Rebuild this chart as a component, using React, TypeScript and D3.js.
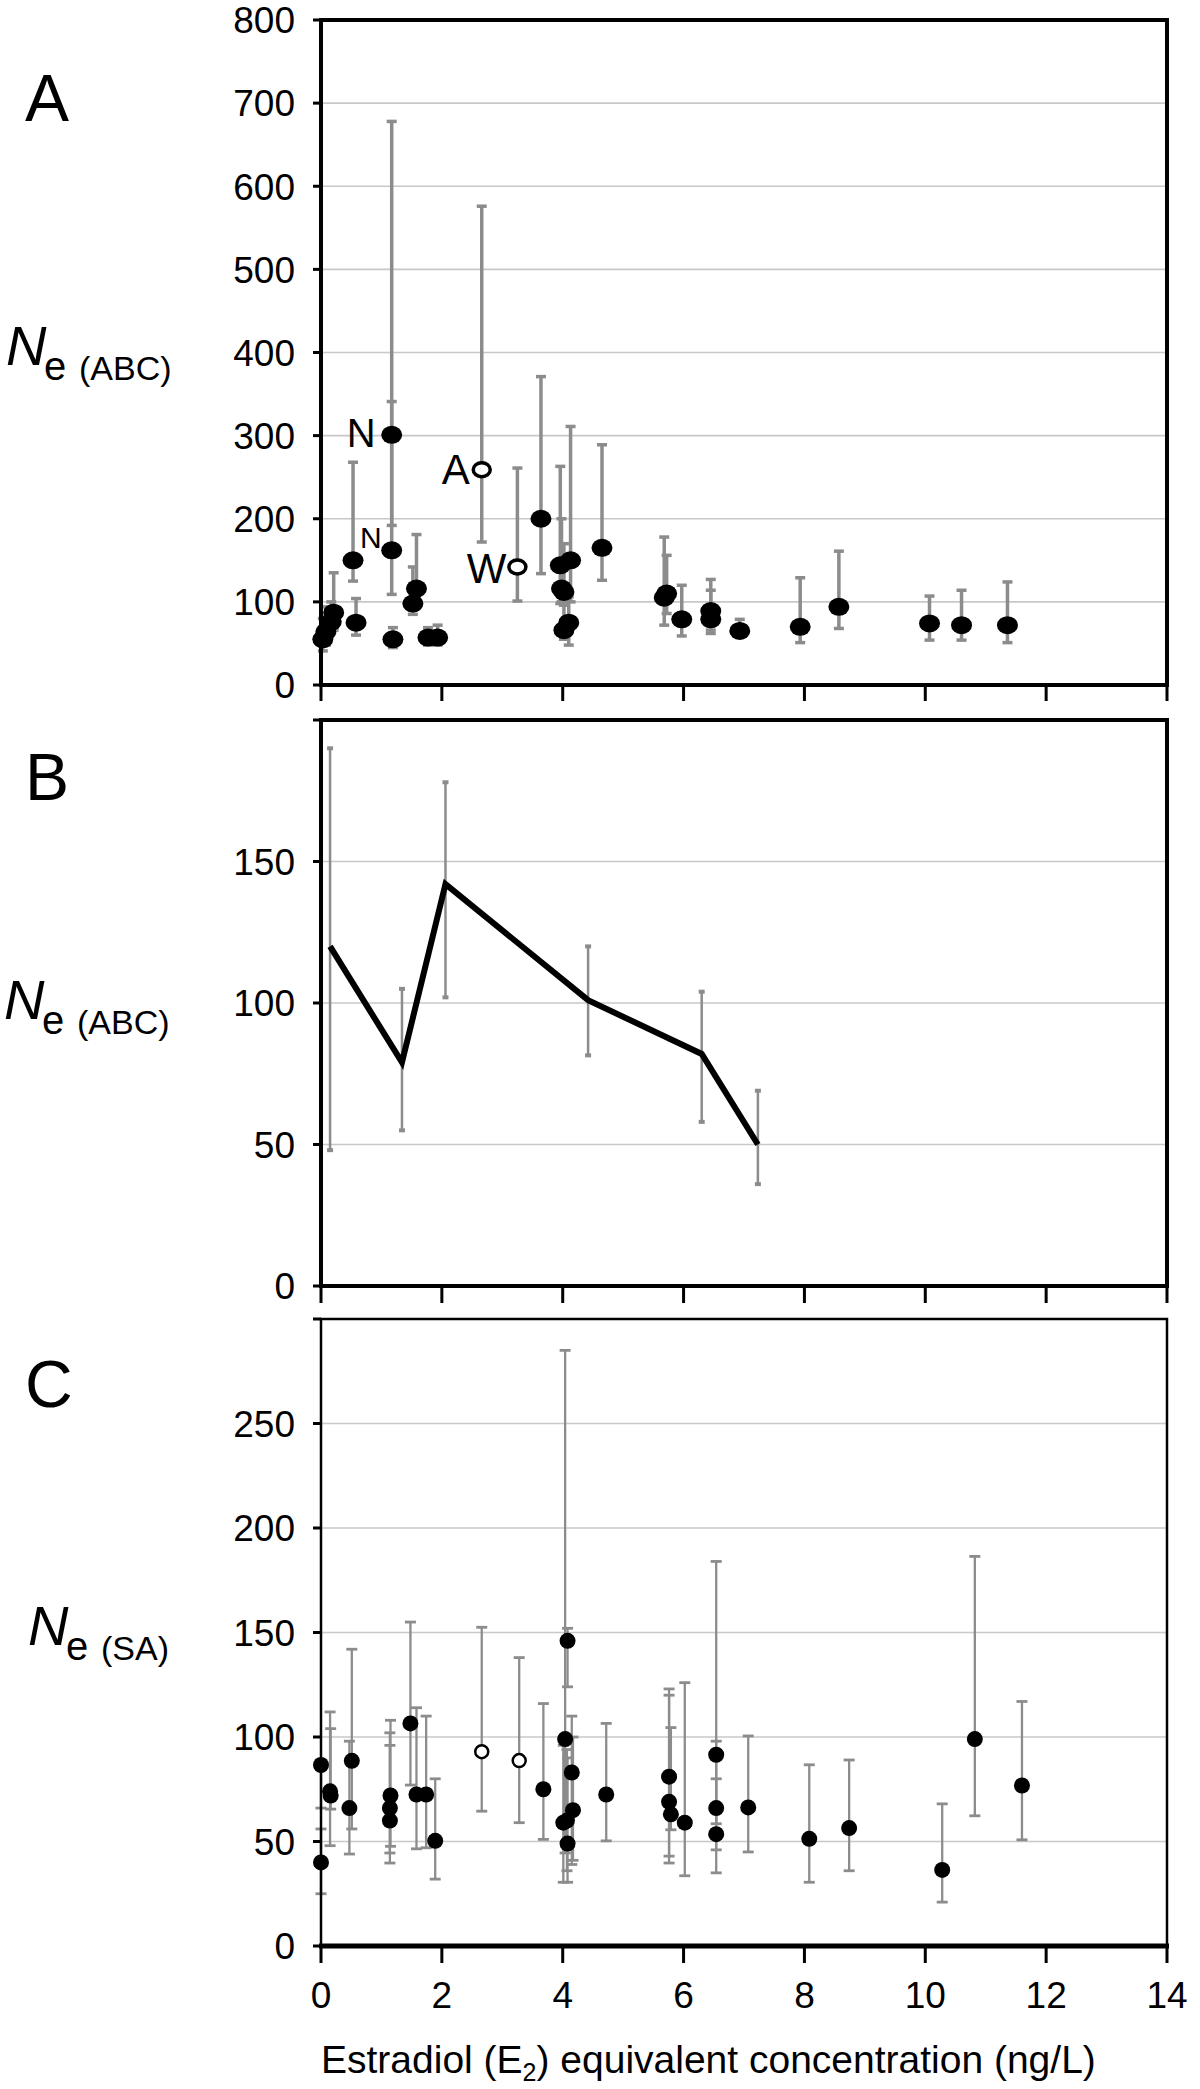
import React from "react";
import * as d3 from "d3";

// ---------- DATA ----------
const X_TICKS = [0, 2, 4, 6, 8, 10, 12, 14];
const A_Y_TICKS = [0, 100, 200, 300, 400, 500, 600, 700, 800];
const B_Y_TICKS = [0, 50, 100, 150];
const C_Y_TICKS = [0, 50, 100, 150, 200, 250];

// Panel A: Ne(ABC) per site (x = E2 eq., y, lower CI, upper CI)
const A_X = [0.03, 0.08, 0.17, 0.21, 0.53, 0.58, 1.17, 1.17, 1.19, 1.52, 1.58, 1.77, 1.93, 3.64, 3.96, 3.98, 4.02, 4.02, 4.10, 4.13, 4.65, 5.68, 5.72, 5.97, 6.45, 6.45, 6.93, 7.93, 8.57, 10.07, 10.6, 11.36];
const A_Y = [55, 64, 76, 87, 150, 75, 301, 162, 55, 98, 116, 57, 57, 200, 144, 116, 112, 66, 75, 150, 165, 105, 110, 79, 89, 79, 65, 70, 94, 74, 72, 72];
const A_LO = [41, 48, 63, 66, 125, 60, 192, 109, 45, 85, 97, 48, 48, 134, 98, 100, 96, 55, 48, 100, 126, 72, 86, 59, 62, 66, 58, 51, 68, 54, 54, 51];
const A_HI = [80, 94, 100, 135, 268, 104, 678, 341, 69, 142, 181, 69, 72, 371, 263, 200, 170, 98, 106, 311, 289, 178, 156, 120, 127, 114, 79, 129, 161, 107, 114, 124];
const A_LABELS = ["", "", "", "", "", "", "N", "N", "", "", "", "", "", "", "", "", "", "", "", "", "", "", "", "", "", "", "", "", "", "", "", ""];

// Panel A open symbols
const A_OPEN_X = [2.66, 3.25];
const A_OPEN_Y = [259, 142];
const A_OPEN_LO = [172, 101];
const A_OPEN_HI = [576, 261];
const A_OPEN_LABELS = ["A", "W"];

// Panel B: binned means
const B_X = [0.15, 1.34, 2.06, 4.42, 6.3, 7.23];
const B_Y = [120, 79, 142, 101, 82, 50];
const B_LO = [48, 55, 102, 81.5, 58, 36];
const B_HI = [190, 105, 178, 120, 104, 69];

// Panel C: Ne(SA)
const C_X = [0.0, 0.0, 0.15, 0.16, 0.51, 0.47, 1.15, 1.14, 1.14, 1.48, 1.58, 1.74, 1.89, 3.68, 4.08, 4.04, 4.15, 4.17, 4.07, 4.01, 4.08, 4.72, 5.76, 5.76, 5.79, 6.02, 6.54, 6.54, 6.54, 7.07, 8.08, 8.74, 10.28, 10.82, 11.6];
const C_Y = [86.6, 40, 74, 72, 88.6, 66, 72, 66, 60, 106.5, 72.5, 72.5, 50.3, 75, 146, 99, 83, 65, 60, 59, 49, 72.5, 81, 69, 63, 59, 91.5, 66, 53.5, 66.3, 51.3, 56.4, 36.4, 99, 76.8];
const C_LO = [66, 25, 48, 65.5, 56, 44, 47.7, 44.5, 39.7, 77, 46.5, 47, 32, 51, 124, 44.5, 39, 41, 36, 30.5, 30.5, 50.3, 43, 39.7, 55.6, 33.6, 58.5, 46, 35, 45, 30.5, 36, 21, 62.3, 50.8];
const C_HI = [89, 56, 112, 104, 142, 98, 108, 102, 96, 155, 114, 110, 80, 116, 152, 285, 110, 100, 94, 96, 90, 106.5, 123, 120, 104.5, 126, 184, 98, 80, 100.5, 86.7, 89, 68, 186.4, 117];

const C_OPEN_X = [2.66, 3.28];
const C_OPEN_Y = [93, 88.7];
const C_OPEN_LO = [64.5, 59];
const C_OPEN_HI = [152.5, 138];

// ---------- LAYOUT ----------
const W = 1200;
const H = 2089;
const LEFT = 321;
const RIGHT = 1167;
const FONT = "'Liberation Sans', Arial, Helvetica, sans-serif";
const BAR = "#8c8c8c";
const GRID = "#c8c8c8";

const x = d3.scaleLinear().domain([0, 14]).range([LEFT, RIGHT]);
const yA = d3.scaleLinear().domain([0, 800]).range([685, 20]);
const yB = d3.scaleLinear().domain([0, 200]).range([1286, 720]);
const yC = d3.scaleLinear().domain([0, 300]).range([1946, 1319]);

type Scale = d3.ScaleLinear<number, number>;

function Grid({ y, ticks }: { y: Scale; ticks: number[] }) {
  return (
    <g>
      {ticks.filter((t) => t > 0).map((t) => (
        <line key={t} x1={LEFT} x2={RIGHT} y1={y(t)} y2={y(t)} stroke={GRID} strokeWidth={1.6} />
      ))}
    </g>
  );
}

function YAxis({ y, ticks, showTop, fontSize }: { y: Scale; ticks: number[]; showTop: boolean; fontSize: number }) {
  const all = showTop ? ticks : ticks.concat([y.domain()[1]]);
  return (
    <g>
      {all.map((t) => (
        <line key={"t" + t} x1={LEFT - 8} x2={LEFT} y1={y(t)} y2={y(t)} stroke="#000" strokeWidth={3} />
      ))}
      {ticks.map((t) => (
        <text key={t} x={295} y={y(t) + fontSize * 0.36} textAnchor="end" fontSize={fontSize} fontFamily={FONT} fill="#000">
          {t}
        </text>
      ))}
    </g>
  );
}

function XTicks({ y0, len }: { y0: number; len: number }) {
  return (
    <g>
      {X_TICKS.map((t) => (
        <line key={t} x1={x(t)} x2={x(t)} y1={y0} y2={y0 + len} stroke="#000" strokeWidth={3} />
      ))}
    </g>
  );
}

function ErrBars({ xs, lo, hi, y, sw, capW, capSw }: { xs: number[]; lo: number[]; hi: number[]; y: Scale; sw: number; capW: number; capSw: number }) {
  return (
    <g>
      {xs.map((xv, i) => {
        const cx = x(xv);
        return (
          <g key={i}>
            <line x1={cx} x2={cx} y1={y(lo[i])} y2={y(hi[i])} stroke={BAR} strokeWidth={sw} />
            <line x1={cx - capW} x2={cx + capW} y1={y(lo[i])} y2={y(lo[i])} stroke={BAR} strokeWidth={capSw} />
            <line x1={cx - capW} x2={cx + capW} y1={y(hi[i])} y2={y(hi[i])} stroke={BAR} strokeWidth={capSw} />
          </g>
        );
      })}
    </g>
  );
}

function YLabel({ x0, base, sub }: { x0: number; base: number; sub: string }) {
  return (
    <g fontFamily={FONT} fill="#000">
      <text x={x0} y={base} fontSize={56} fontStyle="italic">N</text>
      <text x={x0 + 38} y={base + 15} fontSize={40}>e</text>
      <text x={x0 + 73} y={base + 15} fontSize={34}>{sub}</text>
    </g>
  );
}

export default function App() {
  const line = d3
    .line<number>()
    .x((_, i) => x(B_X[i]))
    .y((d) => yB(d));

  const labelOffsets: Record<string, [number, number, number]> = {
    // dx, dy, fontSize for labels attached to points
    N0: [-16, 12, 40],
    N1: [-10, -2, 30],
    A: [-12, 14, 42],
    W: [-11, 16, 42],
  };
  let nCount = 0;

  return (
    <svg width={W} height={H} style={{ position: "absolute", left: 0, top: 0, background: "#fff" }} xmlns="http://www.w3.org/2000/svg">
      <rect x={0} y={0} width={W} height={H} fill="#fff" />

      {/* ---------------- Panel A ---------------- */}
      <Grid y={yA} ticks={A_Y_TICKS} />
      <ErrBars xs={A_X} lo={A_LO} hi={A_HI} y={yA} sw={3.5} capW={5} capSw={3.5} />
      <ErrBars xs={A_OPEN_X} lo={A_OPEN_LO} hi={A_OPEN_HI} y={yA} sw={3.5} capW={5} capSw={3.5} />
      {A_X.map((xv, i) => (
        <ellipse key={i} cx={x(xv)} cy={yA(A_Y[i])} rx={10.5} ry={9} fill="#000" />
      ))}
      {A_OPEN_X.map((xv, i) => (
        <ellipse key={"o" + i} cx={x(xv)} cy={yA(A_OPEN_Y[i])} rx={8.5} ry={7} fill="#fff" stroke="#000" strokeWidth={3.5} />
      ))}
      {A_X.map((xv, i) => {
        if (!A_LABELS[i]) return null;
        const key = "N" + nCount++;
        const [dx, dy, fs] = labelOffsets[key];
        return (
          <text key={"l" + i} x={x(xv) + dx} y={yA(A_Y[i]) + dy} textAnchor="end" fontSize={fs} fontFamily={FONT}>
            {A_LABELS[i]}
          </text>
        );
      })}
      {A_OPEN_X.map((xv, i) => {
        const [dx, dy, fs] = labelOffsets[A_OPEN_LABELS[i]];
        return (
          <text key={"ol" + i} x={x(xv) + dx} y={yA(A_OPEN_Y[i]) + dy} textAnchor="end" fontSize={fs} fontFamily={FONT}>
            {A_OPEN_LABELS[i]}
          </text>
        );
      })}
      <rect x={LEFT} y={yA(800)} width={RIGHT - LEFT} height={yA(0) - yA(800)} fill="none" stroke="#000" strokeWidth={4} />
      <YAxis y={yA} ticks={A_Y_TICKS} showTop={true} fontSize={37} />
      <XTicks y0={yA(0)} len={16} />
      <text x={25} y={121} fontSize={66} fontFamily={FONT}>A</text>
      <YLabel x0={6} base={365} sub="(ABC)" />

      {/* ---------------- Panel B ---------------- */}
      <Grid y={yB} ticks={B_Y_TICKS} />
      <ErrBars xs={B_X} lo={B_LO} hi={B_HI} y={yB} sw={2.5} capW={3} capSw={4} />
      <path d={line(B_Y) || ""} fill="none" stroke="#000" strokeWidth={6} strokeLinejoin="miter" />
      <rect x={LEFT} y={yB(200)} width={RIGHT - LEFT} height={yB(0) - yB(200)} fill="none" stroke="#000" strokeWidth={4} />
      <YAxis y={yB} ticks={B_Y_TICKS} showTop={false} fontSize={37} />
      <XTicks y0={yB(0)} len={17} />
      <text x={25} y={800} fontSize={66} fontFamily={FONT}>B</text>
      <YLabel x0={4} base={1019} sub="(ABC)" />

      {/* ---------------- Panel C ---------------- */}
      <Grid y={yC} ticks={C_Y_TICKS} />
      <ErrBars xs={C_X} lo={C_LO} hi={C_HI} y={yC} sw={2.3} capW={5.5} capSw={2.8} />
      <ErrBars xs={C_OPEN_X} lo={C_OPEN_LO} hi={C_OPEN_HI} y={yC} sw={2.3} capW={5.5} capSw={2.8} />
      {C_X.map((xv, i) => (
        <circle key={i} cx={x(xv)} cy={yC(C_Y[i])} r={8} fill="#000" />
      ))}
      {C_OPEN_X.map((xv, i) => (
        <circle key={"o" + i} cx={x(xv)} cy={yC(C_OPEN_Y[i])} r={6.5} fill="#fff" stroke="#000" strokeWidth={2.5} />
      ))}
      <rect x={LEFT} y={yC(300)} width={RIGHT - LEFT} height={yC(0) - yC(300)} fill="none" stroke="#000" strokeWidth={2.5} />
      <line x1={LEFT - 2} x2={RIGHT + 2} y1={yC(0)} y2={yC(0)} stroke="#000" strokeWidth={5} />
      <YAxis y={yC} ticks={C_Y_TICKS} showTop={false} fontSize={37} />
      <XTicks y0={yC(0)} len={17} />
      {X_TICKS.map((t) => (
        <text key={t} x={x(t)} y={2008} textAnchor="middle" fontSize={37} fontFamily={FONT}>
          {t}
        </text>
      ))}
      <text x={25} y={1407} fontSize={66} fontFamily={FONT}>C</text>
      <YLabel x0={28} base={1645} sub="(SA)" />

      <text x={LEFT} y={2073} fontSize={39} fontFamily={FONT}>
        Estradiol (E
        <tspan fontSize={25} dy={8}>2</tspan>
        <tspan dy={-8}>) equivalent concentration (ng/L)</tspan>
      </text>
    </svg>
  );
}
